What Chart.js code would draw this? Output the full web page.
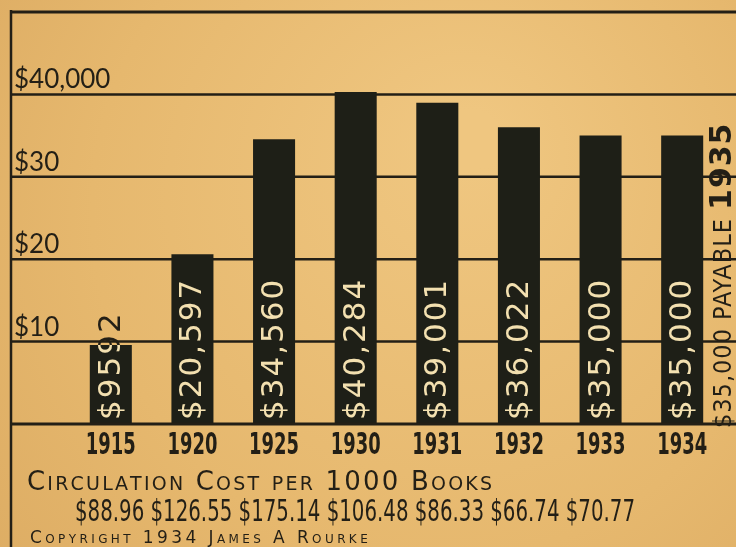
<!DOCTYPE html>
<html>
<head>
<meta charset="utf-8">
<script src="https://cdn.jsdelivr.net/npm/chart.js@4"></script>
<style>
  html, body { margin: 0; padding: 0; background: #e4b46c; }
  canvas { display: block; }
</style>
</head>
<body>
<canvas id="rourkeChart" width="736" height="547"></canvas>
<script>
// values
const years = ['1915', '1920', '1925', '1930', '1931', '1932', '1933', '1934'];
const circulationCost = [9592, 20597, 34560, 40284, 39001, 36022, 35000, 35000];
const barLabels = ['$9592', '$20,597', '$34,560', '$40,284', '$39,001', '$36,022', '$35,000', '$35,000'];
const yTicks = [10000, 20000, 30000, 40000];
const yTickLabels = ['$10', '$20', '$30', '$40,000'];
const costPer1000 = [88.96, 126.55, 175.14, 106.48, 86.33, 66.74, 70.77];
const footTitle = 'Circulation Cost per 1000 Books';
const copyright = 'Copyright 1934 James A Rourke';
const sideNote = '$35,000 PAYABLE ';
const sideYear = '1935';

const INK = '#231f16';
const BAR = '#1e1f17';
const CREAM = '#f3e0b0';

function smallCaps(ctx, text, x, y, size, family, gap) {
    for (const ch of text) {
        const low = ch !== ch.toUpperCase();
        ctx.font = (low ? Math.round(size * 0.72) : size) + 'px ' + family;
        const c = ch.toUpperCase();
        ctx.fillText(c, x, y);
        x += ctx.measureText(c).width + gap;
    }
}

// squeeze text horizontally to a given width (no narrow fonts here)
function squeezed(ctx, text, x, y, width, align) {
    const w = ctx.measureText(text).width;
    const k = width / w;
    ctx.save();
    ctx.textAlign = 'left';
    let left = x;
    if (align === 'center') left = x - width / 2;
    ctx.translate(left, y);
    ctx.scale(k, 1);
    ctx.fillText(text, 0, 0);
    ctx.restore();
}

const paper = {
    id: 'paper',
    beforeDraw(chart) {
        const ctx = chart.ctx;
        const g = ctx.createRadialGradient(470, 140, 30, 420, 260, 560);
        g.addColorStop(0, '#efc680');
        g.addColorStop(0.6, '#e6b86e');
        g.addColorStop(1, '#dcab62');
        ctx.save();
        ctx.fillStyle = g;
        ctx.fillRect(0, 0, chart.width, chart.height);
        ctx.restore();
    },
    beforeDatasetsDraw(chart) {
        const ctx = chart.ctx;
        const y = chart.scales.y;
        ctx.save();
        ctx.strokeStyle = INK;
        ctx.lineWidth = 2.5;
        yTicks.forEach((v, i) => {
            const py = y.getPixelForValue(v);
            ctx.beginPath();
            ctx.moveTo(10, py);
            ctx.lineTo(chart.width, py);
            ctx.stroke();
            ctx.fillStyle = INK;
            ctx.font = '26px Lato, "Liberation Sans", sans-serif';
            ctx.textBaseline = 'alphabetic';
            ctx.fillText(yTickLabels[i], 14, py - 6);
        });
        // frame: top line, left line
        ctx.lineWidth = 3;
        ctx.beginPath();
        ctx.moveTo(10, 12);
        ctx.lineTo(chart.width, 12);
        ctx.stroke();
        ctx.lineWidth = 2.5;
        ctx.beginPath();
        ctx.moveTo(11, 10);
        ctx.lineTo(11, chart.height);
        ctx.stroke();
        ctx.restore();
    },
    afterDatasetsDraw(chart) {
        const ctx = chart.ctx;
        const y = chart.scales.y;
        const base = y.getPixelForValue(0);
        const meta = chart.getDatasetMeta(0);
        ctx.save();
        // baseline
        ctx.strokeStyle = INK;
        ctx.lineWidth = 3;
        ctx.beginPath();
        ctx.moveTo(10, base);
        ctx.lineTo(chart.width, base);
        ctx.stroke();

        // labels inside bars, reading upward
        meta.data.forEach((bar, i) => {
            const w = bar.width;
            for (const inside of [true, false]) {
                ctx.save();
                ctx.beginPath();
                if (inside) {
                    ctx.rect(bar.x - w / 2, bar.y, w, base - bar.y);
                } else {
                    ctx.rect(bar.x - w / 2 - 5, 0, w + 10, bar.y);
                }
                ctx.clip();
                ctx.translate(bar.x + 1, base - 4);
                ctx.rotate(-Math.PI / 2);
                ctx.font = '31px "DejaVu Sans", sans-serif';
                ctx.letterSpacing = '2px';
                ctx.textAlign = 'left';
                ctx.textBaseline = 'middle';
                ctx.fillStyle = inside ? CREAM : INK;
                ctx.fillText(barLabels[i], 0, 0);
                ctx.restore();
            }
            // year under bar
            ctx.fillStyle = INK;
            ctx.font = 'bold 30px "DejaVu Sans", sans-serif';
            ctx.textBaseline = 'alphabetic';
            squeezed(ctx, years[i], bar.x, 454, 50, 'center');
        });

        // footer
        ctx.fillStyle = INK;
        ctx.textAlign = 'left';
        ctx.textBaseline = 'alphabetic';
        smallCaps(ctx, footTitle, 27, 490, 26, '"DejaVu Sans", sans-serif', 2.2);
        ctx.font = '30px "DejaVu Sans Condensed", sans-serif';
        squeezed(ctx, costPer1000.map(v => '$' + v.toFixed(2)).join(' '), 75, 521, 560, 'left');
        smallCaps(ctx, copyright, 30, 543, 17, '"DejaVu Sans", sans-serif', 3.4);

        // note on the right edge
        ctx.save();
        ctx.translate(731, 428);
        ctx.rotate(-Math.PI / 2);
        ctx.textAlign = 'left';
        ctx.textBaseline = 'alphabetic';
        ctx.letterSpacing = '1px';
        ctx.font = '25px "DejaVu Sans Condensed", sans-serif';
        ctx.fillText(sideNote, 0, 0);
        const off = ctx.measureText(sideNote).width;
        ctx.font = 'bold 30px "DejaVu Sans", sans-serif';
        ctx.fillText(sideYear, off, 0);
        ctx.restore();
        ctx.restore();
    }
};

new Chart(document.getElementById('rourkeChart').getContext('2d'), {
    type: 'bar',
    data: {
        labels: years,
        datasets: [{
            data: circulationCost,
            backgroundColor: BAR,
            barPercentage: 0.515,
            categoryPercentage: 1
        }]
    },
    options: {
        responsive: false,
        animation: false,
        devicePixelRatio: 1,
        layout: { padding: { left: 70, right: 13, top: 12, bottom: 123 } },
        plugins: {
            legend: { display: false },
            tooltip: { enabled: false }
        },
        scales: {
            x: { display: false },
            y: { display: false, min: 0, max: 50000 }
        }
    },
    plugins: [paper]
});
</script>
</body>
</html>
